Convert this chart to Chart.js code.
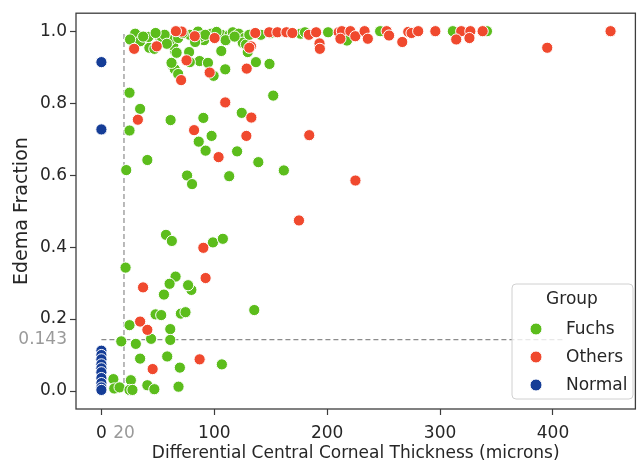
<!DOCTYPE html>
<html><head><meta charset="utf-8">
<script src="https://cdn.jsdelivr.net/npm/chart.js@4"></script>
<style>html,body{margin:0;padding:0;background:#fff;}</style>
</head><body>
<canvas id="c" width="642" height="465"></canvas>
<script>
// ---- data ----
const groupNames = ["Fuchs", "Others", "Normal"];
const fuchsX = [24.9,17.6,30.5,44,61,61,48,53,70.4,74.5,55.4,79.7,34.3,58.3,69.5,106.7,135.4,10.6,11.4,16.1,26.1,24.9,27.5,40.7,46.9,68.3,
  57.2,62.4,98.8,107.6,21.4,65.7,60.4,76.8,
  24.9,34.3,24.9,61.3,90.3,152.2,124.3,97.6,86.2,92.3,120.2,40.7,139,22,161.6,75.9,113.2,80.3,
  63,65,68,87,94.4,99.4,109.7,136.9,148.9,106.2,129.6,77.7,65.1,63.6,42.5,27.9,31.4,41.6,51.9,62.1,78.3,
  29.9,34.3,46.9,53.4,60.7,68,66.6,78.3,85.6,90.9,97.4,106.2,113.5,116.4,121.6,126.6,125.2,128.1,141.3,176.5,180.3,200.8,217.5,246.9,311.3,341.5,
  56,72,88,102,110,118,131,48,37,25.4,150,92,83,58];
const fuchsY = [0.183,0.138,0.131,0.145,0.172,0.142,0.213,0.211,0.215,0.219,0.268,0.281,0.090,0.096,0.065,0.074,0.225,0.033,0.007,0.010,0.030,0.003,0.003,0.016,0.005,0.012,
  0.434,0.417,0.413,0.423,0.343,0.318,0.298,0.294,
  0.829,0.784,0.724,0.753,0.759,0.821,0.773,0.709,0.693,0.668,0.666,0.642,0.636,0.614,0.613,0.599,0.597,0.575,
  0.905,0.894,0.881,0.917,0.912,0.876,0.894,0.914,0.909,0.945,0.942,0.942,0.945,0.960,0.954,0.969,0.990,0.984,0.984,0.912,0.914,
  0.993,0.972,0.951,0.984,0.975,0.981,0.940,0.990,0.999,0.975,0.993,0.990,0.990,0.997,0.993,0.981,0.968,0.963,0.990,0.993,0.997,0.997,0.974,1.0,1.0,1.0,
  0.990,0.995,0.985,0.998,0.975,0.985,0.990,0.995,0.985,0.977,0.995,0.990,0.970,0.965];
const othersX = [34.3,40.7,87,45.4,
  175,225,90.3,92.3,36.9,32.3,109.7,132.8,82.1,128.4,184.1,103.8,
  70.6,75.4,95.9,128.7,132.5,29,49,131,193.2,193.5,
  71,66,82.7,100.3,136.3,148.6,155.9,163.9,169.1,183.8,190.2,210.2,213,211.7,220.5,224.9,233.1,236,252.7,254.8,266.5,271.8,274.7,280.6,295.8,318.7,314.3,326.8,326,337.7,394.9,451];
const othersY = [0.193,0.170,0.088,0.061,
  0.474,0.585,0.398,0.314,0.288,0.754,0.802,0.760,0.725,0.709,0.711,0.650,
  0.864,0.919,0.885,0.896,0.958,0.951,0.958,0.954,0.966,0.951,
  0.999,1.0,0.986,0.981,0.995,0.997,0.997,0.997,0.995,0.990,0.997,0.997,1.0,0.979,1.0,0.986,1.0,0.979,1.0,0.988,0.970,0.998,0.995,1.0,1.0,1.0,0.977,1.0,0.981,1.0,0.954,1.0];
const normalX = [0,0,0,0,0,0,0,0,0,0,0,0];
const normalY = [0.914,0.727,0.112,0.100,0.088,0.074,0.063,0.052,0.036,0.022,0.010,0.003];
const xTickValues = [0, 100, 200, 300, 400];
const yTickValues = [0, 0.2, 0.4, 0.6, 0.8, 1.0];
const xThreshold = 20;      // vertical dashed reference
const yThreshold = 0.143;   // horizontal dashed reference
const hLineEnd = 411;
const vLineSpan = [0, 1];

const colors = { Fuchs: "#5cbd1c", Others: "#f0492e", Normal: "#153d97" };

function pts(xs, ys) { return xs.map((x, i) => ({ x: x, y: ys[i] })); }

function scatterSet(name, xs, ys, order) {
  return {
    type: "scatter", label: name, data: pts(xs, ys), order: order,
    backgroundColor: colors[name], borderColor: "#ffffff", borderWidth: 1,
    pointRadius: 5.6, pointHoverRadius: 5.6
  };
}

const dashColor = "#8c8c8c";
const datasets = [
  scatterSet("Fuchs", fuchsX, fuchsY, 3),
  scatterSet("Others", othersX, othersY, 2),
  scatterSet("Normal", normalX, normalY, 1),
  { type: "line", label: "_v", data: [{ x: xThreshold, y: vLineSpan[0] }, { x: xThreshold, y: vLineSpan[1] }],
    borderColor: dashColor, borderDash: [5, 3], borderWidth: 1.2, pointRadius: 0, order: 10, fill: false },
  { type: "line", label: "_h", data: [{ x: 0, y: yThreshold }, { x: hLineEnd, y: yThreshold }],
    borderColor: dashColor, borderDash: [5, 3], borderWidth: 1.2, pointRadius: 0, order: 10, fill: false }
];

const FONT = "'DejaVu Sans', sans-serif";
const TXT = "#262626";
const GRAY = "#9a9a9a";

const frameAndLegend = {
  id: "frameAndLegend",
  afterDraw(chart) {
    const ctx = chart.ctx, a = chart.chartArea;
    ctx.save();
    ctx.strokeStyle = "#3d3d3d"; ctx.lineWidth = 1.3;
    ctx.strokeRect(a.left, a.top, a.right - a.left, a.bottom - a.top);
    // legend
    const bx = 512, by = 284, bw = 121, bh = 115, r = 4;
    ctx.beginPath();
    ctx.moveTo(bx + r, by); ctx.lineTo(bx + bw - r, by); ctx.quadraticCurveTo(bx + bw, by, bx + bw, by + r);
    ctx.lineTo(bx + bw, by + bh - r); ctx.quadraticCurveTo(bx + bw, by + bh, bx + bw - r, by + bh);
    ctx.lineTo(bx + r, by + bh); ctx.quadraticCurveTo(bx, by + bh, bx, by + bh - r);
    ctx.lineTo(bx, by + r); ctx.quadraticCurveTo(bx, by, bx + r, by); ctx.closePath();
    ctx.fillStyle = "rgba(255,255,255,0.8)"; ctx.fill();
    ctx.strokeStyle = "#d0d0d0"; ctx.lineWidth = 1; ctx.stroke();
    ctx.fillStyle = TXT; ctx.font = "17px " + FONT; ctx.textBaseline = "middle";
    ctx.textAlign = "center"; ctx.fillText("Group", 572, 300);
    ctx.textAlign = "left";
    groupNames.forEach((g, i) => {
      const y = 329 + i * 28;
      ctx.beginPath(); ctx.arc(536, y, 6, 0, Math.PI * 2);
      ctx.fillStyle = colors[g]; ctx.fill();
      ctx.strokeStyle = "#fff"; ctx.lineWidth = 1; ctx.stroke();
      ctx.fillStyle = TXT; ctx.fillText(g, 566, y + 1);
    });
    ctx.restore();
  }
};

new Chart(document.getElementById("c"), {
  data: { datasets: datasets },
  options: {
    responsive: false, animation: false, devicePixelRatio: 1,
    layout: { padding: { top: 9, right: 2, left: 0, bottom: 0 } },
    plugins: { legend: { display: false }, tooltip: { enabled: false } },
    scales: {
      x: {
        type: "linear", min: -22.5, max: 473,
        afterBuildTicks: s => { s.ticks = [xTickValues[0], xThreshold].concat(xTickValues.slice(1)).map(v => ({ value: v })); },
        afterFit: s => { s.height = 56; },
        ticks: {
          autoSkip: false, maxRotation: 0, minRotation: 0, padding: 8,
          font: { family: FONT, size: 17 },
          color: c => (c.tick && c.tick.value === xThreshold) ? GRAY : TXT,
          callback: v => String(v)
        },
        grid: { drawOnChartArea: false, drawTicks: true, tickLength: 6, tickWidth: 1.2,
          tickColor: c => (c.tick && c.tick.value === xThreshold) ? "rgba(0,0,0,0)" : "#3d3d3d" },
        border: { display: false },
        title: { display: true, text: "Differential Central Corneal Thickness (microns)",
          font: { family: FONT, size: 17 }, color: TXT, padding: { top: 0, bottom: 1 } }
      },
      y: {
        type: "linear", min: -0.05, max: 1.05,
        afterBuildTicks: s => { s.ticks = [yTickValues[0], yThreshold].concat(yTickValues.slice(1)).map(v => ({ value: v })); },
        afterFit: s => { s.width = 76; },
        ticks: {
          autoSkip: false, padding: 3,
          font: { family: FONT, size: 17 },
          color: c => (c.tick && c.tick.value === yThreshold) ? GRAY : TXT,
          callback: v => (v === yThreshold ? "0.143" : v.toFixed(1))
        },
        grid: { drawOnChartArea: false, drawTicks: true, tickLength: 6, tickWidth: 1.2,
          tickColor: c => (c.tick && c.tick.value === yThreshold) ? "rgba(0,0,0,0)" : "#3d3d3d" },
        border: { display: false },
        title: { display: true, text: "Edema Fraction",
          font: { family: FONT, size: 19 }, color: TXT, padding: { top: 11, bottom: 0 } }
      }
    }
  },
  plugins: [frameAndLegend]
});
</script>
</body></html>
